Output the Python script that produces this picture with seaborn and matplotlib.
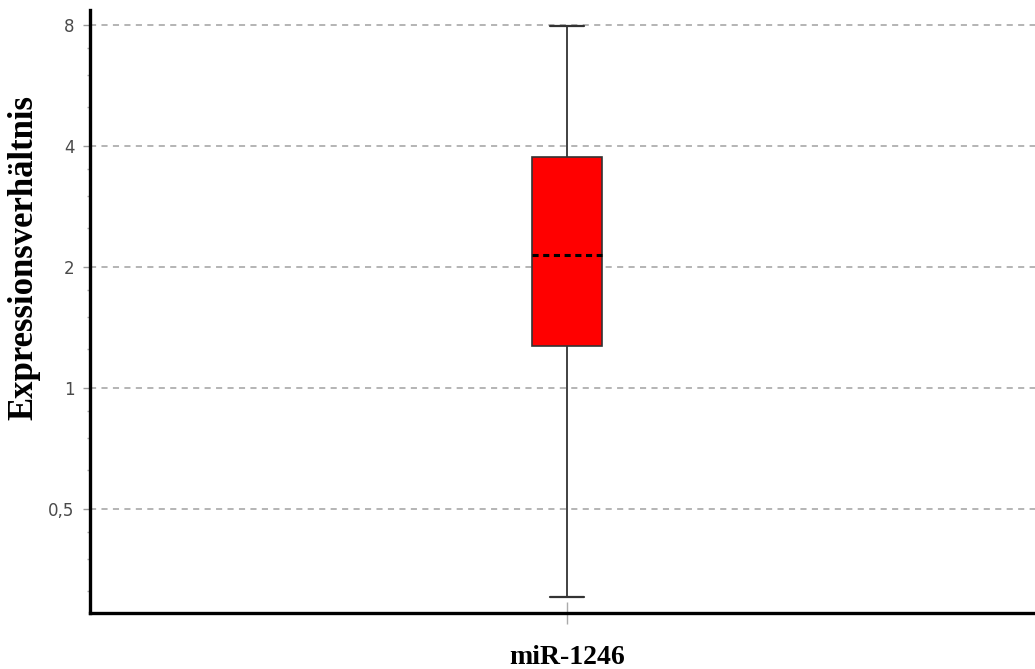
import numpy as np
import pandas as pd
import seaborn as sns
import matplotlib
matplotlib.use("Agg")
import matplotlib.pyplot as plt
from matplotlib.ticker import FixedLocator, FixedFormatter, NullFormatter

# Five-number summary of the expression ratio (min, Q1, median, Q3, max)
category = ["miR-1246"]
ratio_values = [0.302, 1.27, 2.14, 3.75, 7.95]

major_ticks = [0.5, 1, 2, 4, 8]
major_labels = ["0,5", "1", "2", "4", "8"]
minor_ticks = [0.3125, 0.375, 0.4375, 0.625, 0.75, 0.875,
               1.25, 1.5, 1.75, 2.5, 3, 3.5, 5, 6, 7]

df = pd.DataFrame({"gene": category * len(ratio_values), "ratio": ratio_values})

sns.set_style("white")
fig = plt.figure(figsize=(10.35, 6.69), dpi=100)
ax = fig.add_axes([0.08696, 0.0837, 0.9130, 0.9013])

sns.boxplot(
    data=df, x="gene", y="ratio", ax=ax,
    log_scale=2, whis=(0, 100), width=0.074,
    color="#ff0000", saturation=1, fill=True,
    boxprops=dict(facecolor="#ff0000", edgecolor="#333333", linewidth=1.2),
    whiskerprops=dict(color="#333333", linewidth=1.3),
    capprops=dict(color="#333333", linewidth=1.6),
    medianprops=dict(color="black", linewidth=2.2, linestyle=(0, (2, 1.5))),
    showfliers=False,
)

ax.set_ylim(0.2752, 8.72)
ax.set_xlim(-0.5048, 0.4952)

ax.yaxis.set_major_locator(FixedLocator(major_ticks))
ax.yaxis.set_major_formatter(FixedFormatter(major_labels))
ax.yaxis.set_minor_locator(FixedLocator(minor_ticks))
ax.yaxis.set_minor_formatter(NullFormatter())

ax.grid(axis="y", which="major", color="#a0a0a0", linestyle=(0, (4, 3.5)), linewidth=1.1)
ax.set_axisbelow(True)

for side in ["top", "right"]:
    ax.spines[side].set_visible(False)
for side in ["left", "bottom"]:
    ax.spines[side].set_color("black")
    ax.spines[side].set_linewidth(2.4)

ax.tick_params(axis="y", which="major", direction="out", length=5, width=1,
               color="#999999", labelcolor="#4a4a4a", labelsize=12, pad=6, left=True)
ax.tick_params(axis="y", which="minor", direction="out", length=2, width=1,
               color="#aaaaaa", left=True)
ax.tick_params(axis="x", which="major", direction="inout", length=16, width=1,
               color="#aaaaaa", bottom=True, pad=15)
for lbl in ax.get_xticklabels():
    lbl.set_fontfamily(["Liberation Serif", "DejaVu Serif"])
    lbl.set_fontweight("bold")
    lbl.set_fontsize(20)
    lbl.set_color("black")
for lbl in ax.get_yticklabels():
    lbl.set_fontfamily(["DejaVu Sans"])

ax.set_xlabel("")
ax.set_ylabel("")
fig.text(0.023, 1 - 258 / 669, "Expressionsverhältnis", rotation=90,
         ha="center", va="center", fontsize=25, fontweight="bold",
         family=["Liberation Serif", "DejaVu Serif"], color="black")

fig.savefig("out.png", dpi=100)
